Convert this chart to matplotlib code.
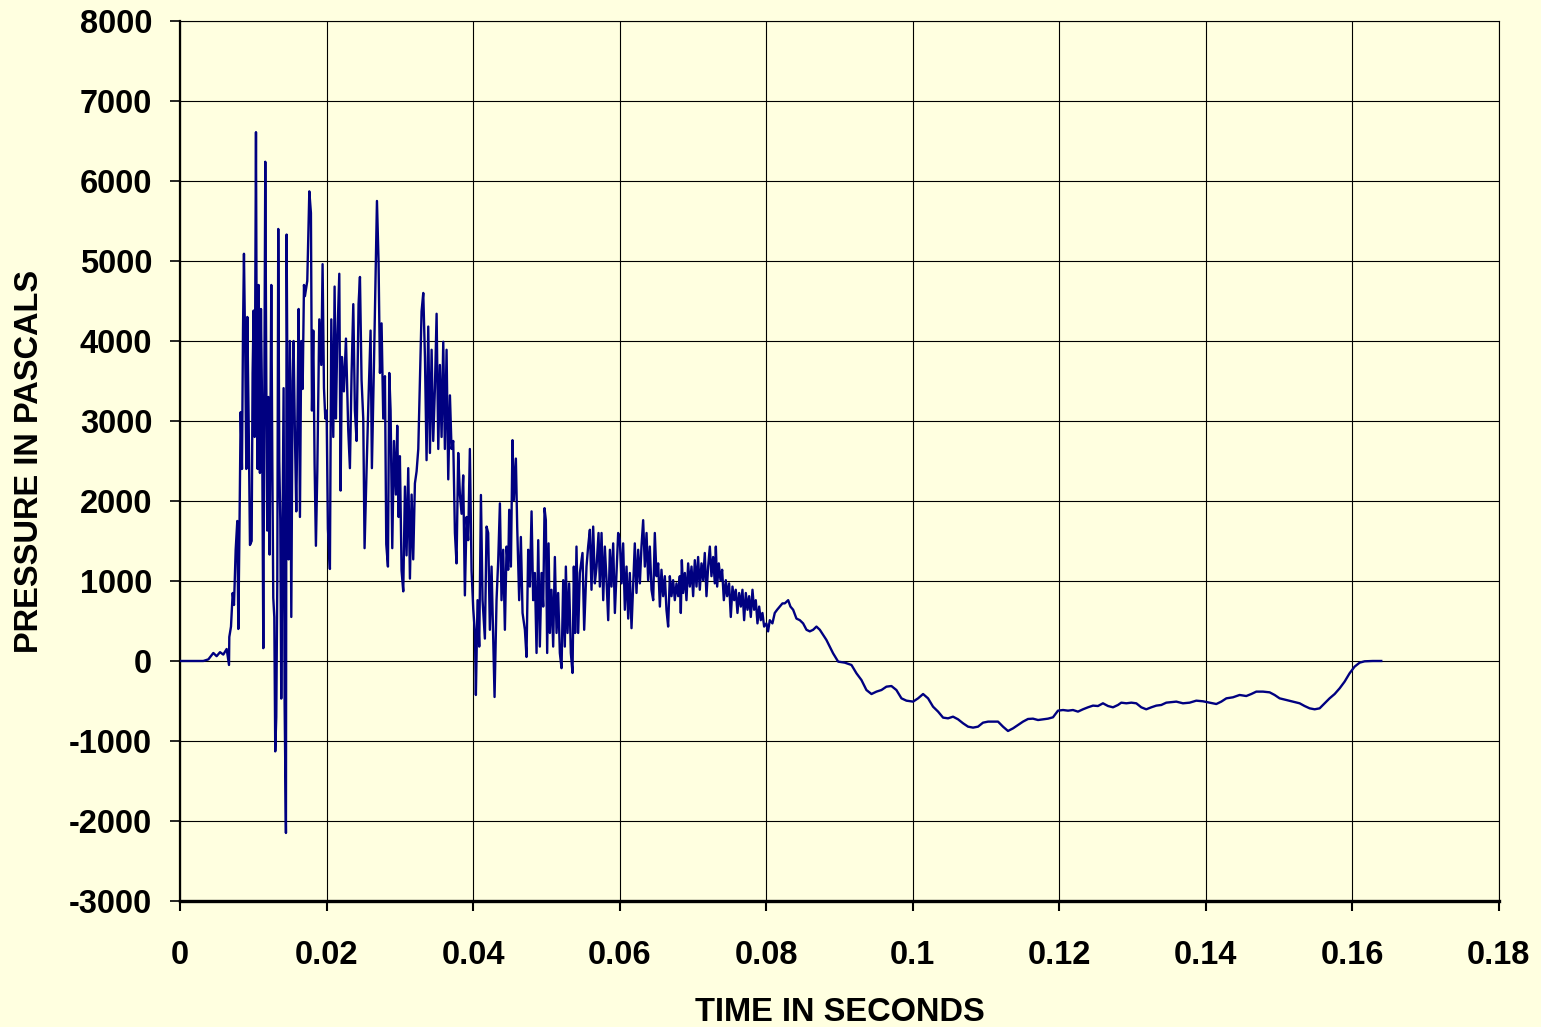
import numpy as np
import matplotlib
matplotlib.use("Agg")
import matplotlib.pyplot as plt

# pressure trace: (time in ms, pressure in Pa)
onset = [(0, 0), (3.18, 0), (3.87, 20), (4.55, 100), (5.0, 60), (5.46, 110), (5.91, 80),
         (6.37, 150), (6.69, -50), (6.73, 300), (6.96, 430), (7.19, 850), (7.37, 700),
         (7.6, 1390), (7.82, 1750), (7.96, 400), (8.1, 1500), (8.28, 3110), (8.46, 2400),
         (8.6, 4140), (8.73, 5090), (8.91, 3800), (9.05, 2400), (9.19, 4300), (9.37, 3000),
         (9.55, 1450), (9.78, 1500), (9.91, 3600), (10.05, 4380), (10.19, 2800), (10.37, 6610),
         (10.5, 3000), (10.6, 2400), (10.73, 4700), (10.82, 3300), (10.91, 2350), (11.05, 4400),
         (11.19, 3300), (11.37, 160), (11.5, 3000), (11.64, 6240), (11.78, 3500), (11.91, 1630),
         (12.05, 3300), (12.23, 1330), (12.46, 4700), (12.6, 2500), (12.73, 790), (12.87, 550),
         (13.0, -1130), (13.14, -700), (13.28, 1000), (13.41, 5400), (13.55, 2500), (13.69, 1750),
         (13.82, -470), (13.96, 1200), (14.14, 3410), (14.28, -530), (14.46, -2150), (14.55, 5330),
         (14.69, 3000), (14.82, 1270), (15.0, 4000), (15.19, 550), (15.37, 3500), (15.5, 4000),
         (15.69, 2800), (15.87, 1870), (16.05, 3200), (16.19, 4400), (16.37, 1800), (16.55, 4000),
         (16.74, 3400), (16.92, 4700)]

impulse = [(17.05, 4560), (17.37, 4750), (17.65, 5870), (17.87, 5600), (18.01, 3130), (18.19, 4130),
           (18.37, 2460), (18.55, 1440), (18.74, 2370), (19.01, 4270), (19.28, 3700), (19.46, 4960),
           (19.65, 3410), (19.83, 3030), (20.01, 3130), (20.19, 1650), (20.46, 1150), (20.65, 4270),
           (20.92, 2800), (21.1, 4680), (21.28, 3030), (21.46, 3990), (21.74, 4840), (21.92, 2130),
           (22.1, 3800), (22.37, 3370), (22.65, 4030), (22.96, 2890), (23.19, 2410), (23.42, 3600),
           (23.65, 4460), (23.87, 3130), (24.1, 2750), (24.37, 4460), (24.56, 4800), (24.78, 3510),
           (25.01, 3030), (25.19, 1410), (25.47, 2410), (25.74, 3320), (26.01, 4130), (26.19, 2410),
           (26.47, 3700), (26.65, 4600), (26.88, 5750), (27.1, 4990), (27.29, 3600), (27.51, 4220),
           (27.74, 3030), (27.97, 3560), (28.15, 1460), (28.38, 1180), (28.56, 3600), (28.74, 3130),
           (28.97, 1410), (29.2, 2750), (29.47, 2080), (29.65, 2940), (29.83, 1800), (30.01, 2560),
           (30.24, 1130), (30.47, 870), (30.7, 2180), (30.92, 1320), (31.15, 2410), (31.38, 1030),
           (31.61, 2080), (31.83, 1270), (32.06, 2220), (32.29, 2370), (32.52, 2650), (32.74, 3510),
           (32.97, 4370), (33.2, 4600), (33.43, 3800), (33.65, 2510), (33.88, 4180), (34.11, 2600),
           (34.34, 3890), (34.56, 2750), (34.79, 3410), (35.02, 4340), (35.25, 2650), (35.47, 3700),
           (35.7, 2800), (35.93, 3990), (36.15, 2650), (36.38, 3890), (36.61, 2270), (36.84, 3320),
           (37.06, 2650), (37.29, 2750), (37.52, 1600), (37.74, 1220), (37.97, 2600), (38.2, 2080),
           (38.43, 1840), (38.65, 2320), (38.88, 820), (39.11, 1800), (39.33, 1510), (39.56, 2650),
           (39.79, 1130), (40.02, 650)]

ringing = [(40.25, 350), (40.38, -425), (40.61, 760), (40.84, 180), (41.07, 2075), (41.29, 760),
           (41.61, 280), (41.84, 1680), (42.06, 1600), (42.29, 390), (42.52, 1180), (42.75, 280),
           (42.93, -450), (43.2, 760), (43.43, 1260), (43.66, 1970), (43.88, 760), (44.11, 1390),
           (44.34, 390), (44.57, 1430), (44.79, 1140), (44.93, 1890), (45.16, 1180), (45.38, 2760),
           (45.56, 2010), (45.84, 2530), (46.02, 1680), (46.29, 760), (46.52, 1550), (46.75, 600),
           (47.07, 390), (47.29, 50), (47.52, 1390), (47.75, 930), (47.98, 1870), (48.2, 760),
           (48.43, 1100), (48.66, 100), (48.89, 1510), (49.11, 180), (49.34, 1100), (49.57, 680),
           (49.75, 1910), (49.93, 1760), (50.11, 100), (50.3, 1470), (50.48, 350), (50.7, 890),
           (50.93, 180), (51.16, 1300), (51.39, 350), (51.61, 850), (51.84, 100), (52.07, -90),
           (52.3, 1010), (52.52, 180), (52.66, 1180), (52.89, 350), (53.11, 970), (53.34, 100),
           (53.57, -150), (53.75, 1180), (53.93, 350), (54.11, 1430), (54.34, 350), (54.57, 1100),
           (54.93, 1350), (55.16, 390), (55.48, 1180), (55.7, 1430), (55.94, 1640), (56.16, 890),
           (56.39, 1680), (56.62, 970), (56.85, 1180), (57.12, 1600), (57.3, 930), (57.53, 1600),
           (57.76, 760), (57.98, 1430), (58.21, 1010), (58.44, 510), (58.67, 1390), (58.89, 930),
           (59.12, 1470), (59.35, 600), (59.57, 1100), (59.8, 1600), (60.03, 1510)]

plateau = [(60.26, 970), (60.48, 1470), (60.71, 640), (60.94, 1180), (61.17, 530), (61.39, 1100),
           (61.62, 410), (61.85, 970), (62.07, 1470), (62.3, 850), (62.53, 1390), (62.76, 970),
           (62.98, 1430), (63.21, 1760), (63.44, 1180), (63.67, 1600), (63.89, 1010), (64.12, 1430),
           (64.35, 890), (64.58, 760), (64.8, 1600), (65.03, 1060), (65.26, 1220), (65.49, 680),
           (65.71, 1140), (65.94, 810), (66.17, 1060), (66.39, 640), (66.62, 430), (66.85, 1060),
           (67.08, 810), (67.3, 1010), (67.53, 760), (67.76, 970), (67.99, 810), (68.21, 1060),
           (68.35, 600), (68.49, 1260), (68.67, 850), (68.9, 1100), (69.12, 760), (69.35, 1220),
           (69.58, 930), (69.81, 1180), (70.03, 810), (70.26, 1260), (70.49, 930), (70.71, 1300),
           (70.94, 890), (71.17, 1220), (71.4, 1010), (71.62, 1350), (71.85, 810), (72.08, 1180),
           (72.31, 1430), (72.53, 1060), (72.76, 1300), (72.99, 970), (73.13, 1430), (73.31, 930),
           (73.53, 1220), (73.76, 1010), (73.99, 1140), (74.22, 760), (74.49, 1010), (74.67, 810),
           (74.94, 970), (75.17, 550), (75.4, 930), (75.63, 760), (75.85, 890), (76.08, 600),
           (76.31, 850), (76.54, 680), (76.76, 890), (76.99, 510), (77.22, 850), (77.45, 640),
           (77.67, 810), (77.9, 550), (78.13, 890), (78.35, 640), (78.58, 760), (78.81, 470),
           (79.04, 680), (79.26, 510), (79.49, 600), (79.72, 430), (80.03, 470), (80.26, 370),
           (80.49, 510), (80.85, 470), (81.17, 600), (81.49, 640), (81.85, 680), (82.22, 720),
           (82.54, 720), (83.0, 760), (83.31, 680), (83.68, 640), (84.13, 530), (84.59, 510),
           (85.04, 470), (85.5, 390), (85.95, 370), (86.41, 390), (86.86, 430), (87.32, 390)]

tail = [(88.22, 263), (89.13, 96), (89.82, -8), (90.73, -21), (91.64, -50), (92.32, -154),
        (93.0, -238), (93.68, -363), (94.37, -413), (95.05, -383), (95.73, -363), (96.41, -321),
        (97.09, -313), (97.77, -363), (98.46, -467), (99.14, -496), (100.05, -508), (100.73, -467),
        (101.41, -413), (102.09, -467), (102.77, -571), (103.46, -633), (104.14, -708),
        (104.82, -717), (105.5, -696), (106.18, -729), (106.87, -779), (107.55, -821),
        (108.23, -833), (108.91, -821), (109.59, -771), (110.28, -758), (110.96, -758),
        (111.64, -758), (112.32, -821), (113.0, -875), (113.69, -842), (114.37, -800),
        (115.05, -758), (115.73, -725), (116.41, -721), (117.1, -738), (117.78, -729),
        (118.46, -721), (119.14, -704), (119.82, -621), (120.51, -613), (121.19, -621),
        (121.87, -613), (122.55, -633), (123.23, -604), (123.92, -579), (124.6, -558),
        (125.28, -563), (125.96, -529), (126.65, -563), (127.33, -579), (128.01, -550),
        (128.46, -521), (129.15, -529), (129.83, -521), (130.51, -529), (131.19, -579),
        (131.87, -604), (132.56, -579), (133.24, -558), (133.92, -550), (134.6, -521),
        (135.07, -517), (135.97, -508), (136.88, -529), (137.79, -521), (138.7, -496),
        (139.61, -504), (140.52, -521), (141.43, -538), (142.11, -508), (142.8, -467),
        (143.7, -454), (144.61, -425), (145.52, -438), (146.2, -413), (146.89, -383),
        (147.8, -383), (148.71, -392), (149.39, -425), (150.07, -467), (150.98, -488),
        (151.89, -508), (152.8, -529), (153.48, -563), (154.17, -592), (154.85, -604),
        (155.53, -592), (156.21, -529), (156.89, -467), (157.58, -413), (158.26, -342),
        (158.94, -258), (159.62, -154), (160.3, -71), (160.99, -21), (161.67, -4),
        (162.8, 0), (163.94, 0)]

x_ticks = [0, 0.02, 0.04, 0.06, 0.08, 0.1, 0.12, 0.14, 0.16, 0.18]
x_labels = ['0', '0.02', '0.04', '0.06', '0.08', '0.1', '0.12', '0.14', '0.16', '0.18']
y_ticks = list(range(-3000, 8001, 1000))

trace = onset + impulse + ringing + plateau + tail
time_ms, pressure = zip(*trace)
time_s = np.array(time_ms) / 1000.0
pressure = np.array(pressure)

bg = '#FFFFE0'
plt.rcParams['font.family'] = ['Liberation Sans', 'DejaVu Sans']
plt.rcParams['axes.unicode_minus'] = False

fig = plt.figure(figsize=(15.41, 10.27), dpi=100, facecolor=bg)
ax = fig.add_axes([0.1168, 0.1227, 0.8559, 0.8569])
ax.set_facecolor(bg)

ax.plot(time_s, pressure, color='#000080', lw=1.7, zorder=3)

ax.set_xlim(0, 0.18)
ax.set_ylim(-3000, 8000)
ax.set_xticks(x_ticks)
ax.set_xticklabels(x_labels)
ax.set_yticks(y_ticks)
ax.grid(True, color='black', lw=0.8, zorder=1)
ax.set_axisbelow(True)

for lab in ax.get_xticklabels() + ax.get_yticklabels():
    lab.set_fontsize(23.5)
    lab.set_fontweight('bold')

ax.tick_params(axis='x', direction='out', length=7, width=1.5, pad=21)
ax.tick_params(axis='y', direction='out', length=7, width=1.2, pad=13)

ax.spines['bottom'].set_linewidth(2.4)
ax.spines['left'].set_linewidth(1.6)
ax.spines['top'].set_linewidth(0.8)
ax.spines['right'].set_linewidth(0.8)

ax.set_xlabel('TIME IN SECONDS', fontsize=23.5, fontweight='bold', labelpad=19)
ax.set_ylabel('PRESSURE IN PASCALS', fontsize=23.5, fontweight='bold', labelpad=17)

fig.savefig('out.png', dpi=100, facecolor=bg)
